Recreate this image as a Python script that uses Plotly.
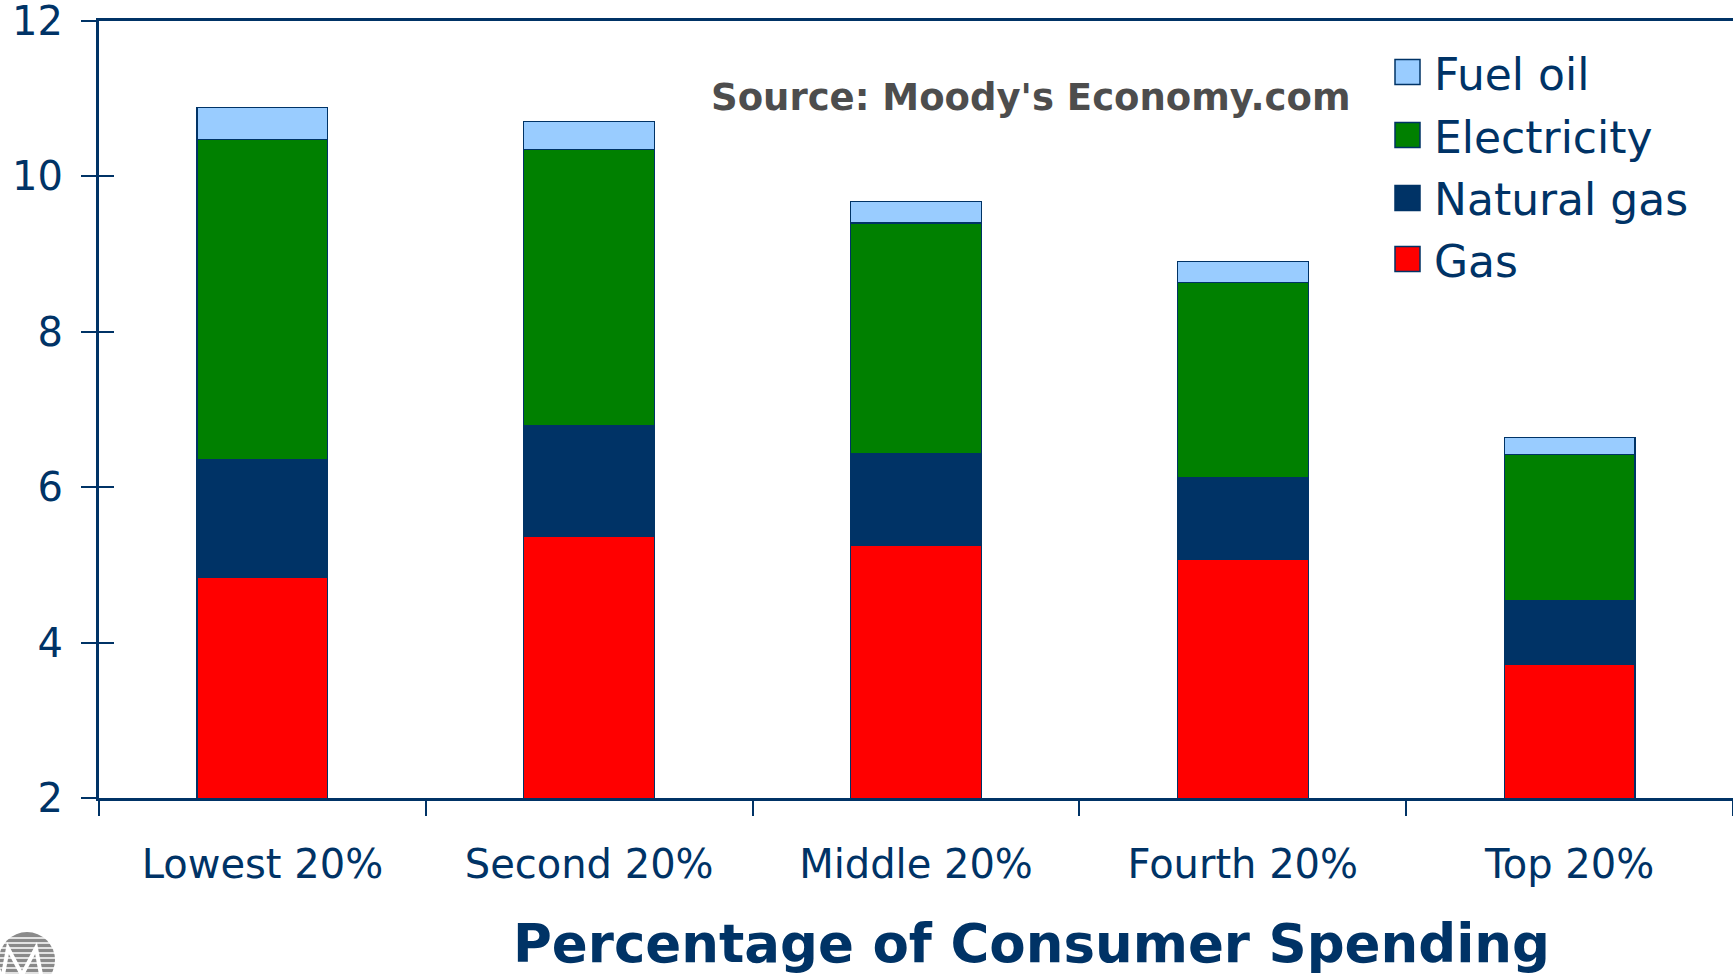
import plotly.graph_objects as go

categories = ["Lowest 20%", "Second 20%", "Middle 20%", "Fourth 20%", "Top 20%"]
gas = [4.84, 5.37, 5.25, 5.07, 3.72]
natural_gas = [1.52, 1.42, 1.18, 1.05, 0.82]
electricity = [4.11, 3.56, 2.97, 2.51, 1.88]
fuel_oil = [0.42, 0.36, 0.28, 0.27, 0.22]
series_names = ["Gas", "Natural gas", "Electricity", "Fuel oil"]
series_colors = ["#FF0000", "#003366", "#008000", "#99CCFF"]

NAVY = "#003366"
OFF = 0  # body margin removed via post_script
W, H = 1733, 974
ML, MR, MT, MB = 99, 0, 21, 176
PW = W - ML - MR
PH = H - MT - MB


def px_x(x):
    return (x - OFF - ML) / PW


def px_y(y):
    return (H - MB - (y - OFF)) / PH


fig = go.Figure()
for name, vals, col in zip(series_names, [gas, natural_gas, electricity, fuel_oil], series_colors):
    fig.add_trace(go.Bar(
        x=categories, y=vals, name=name,
        marker=dict(color=col, line=dict(color=NAVY, width=1.2)),
        showlegend=False,
    ))

tickfont = dict(family="DejaVu Sans", size=40, color=NAVY)

fig.update_layout(
    width=W, height=H,
    margin=dict(l=ML, r=MR, t=MT, b=MB, autoexpand=False),
    paper_bgcolor="white", plot_bgcolor="white",
    barmode="stack", bargap=0.6,
    font=dict(family="DejaVu Sans", color=NAVY),
    xaxis=dict(
        type="category", tickson="boundaries", ticks="outside", ticklen=15,
        tickwidth=2, tickcolor=NAVY, showline=True, linecolor=NAVY, linewidth=3,
        mirror=True, showgrid=False, tickfont=tickfont, ticklabelstandoff=29,
        automargin=False,
    ),
    yaxis=dict(
        range=[2, 12], dtick=2, ticks="outside", ticklen=15, tickwidth=2,
        tickcolor=NAVY, showline=True, linecolor=NAVY, linewidth=3,
        showgrid=False, zeroline=False, tickfont=tickfont, ticklabelstandoff=10,
        ticklabeloverflow="allow", automargin=False,
    ),
    yaxis2=dict(
        range=[2, 12], dtick=2, ticks="inside", ticklen=15, tickwidth=2,
        tickcolor=NAVY, overlaying="y", side="left", showticklabels=False,
        showgrid=False, zeroline=False, showline=False, automargin=False,
    ),
)
# invisible trace to activate yaxis2
fig.add_trace(go.Scatter(x=[categories[0]], y=[None], yaxis="y2", showlegend=False, hoverinfo="skip"))

# Manual legend (top to bottom: Fuel oil, Electricity, Natural gas, Gas)
legend_rows = [72, 135, 198, 259]
for name, col, yc in zip(series_names[::-1], series_colors[::-1], legend_rows):
    fig.add_shape(type="rect", xref="paper", yref="paper",
                  x0=px_x(1395), x1=px_x(1420), y0=px_y(yc + 12.5), y1=px_y(yc - 12.5),
                  fillcolor=col, line=dict(color=NAVY, width=1.5))
    fig.add_annotation(xref="paper", yref="paper", x=px_x(1432), y=px_y(yc + 2),
                       text=name, showarrow=False, xanchor="left", yanchor="middle",
                       font=dict(family="DejaVu Sans", size=44, color=NAVY))

fig.add_annotation(xref="paper", yref="paper", x=px_x(1030), y=px_y(98),
                   text="<b>Source: Moody's Economy.com</b>", showarrow=False,
                   xanchor="center", yanchor="middle",
                   font=dict(family="DejaVu Sans", size=37, color="#4D4D4D"))

fig.add_annotation(xref="paper", yref="paper", x=px_x(1031), y=px_y(944),
                   text="<b>Percentage of Consumer Spending</b>", showarrow=False,
                   xanchor="center", yanchor="middle",
                   font=dict(family="DejaVu Sans", size=53, color=NAVY))

# logo fragment bottom-left (decorative)
fig.add_shape(type="circle", xref="paper", yref="paper",
              x0=px_x(-1), x1=px_x(55), y0=px_y(988), y1=px_y(932),
              fillcolor="#8A8A8A", line=dict(width=0), layer="above")
for yy in range(938, 975, 5):
    fig.add_shape(type="line", xref="paper", yref="paper",
                  x0=px_x(-2), x1=px_x(57), y0=px_y(yy), y1=px_y(yy),
                  line=dict(color="white", width=1.5), layer="above")
m_pts = [(2, 980), (8, 948), (22, 975), (36, 948), (42, 980)]
m_path = "M " + " L ".join(f"{px_x(x)},{px_y(y)}" for x, y in m_pts)
fig.add_shape(type="path", xref="paper", yref="paper", path=m_path,
              line=dict(color="white", width=4), layer="above")

fig.write_html("out.html", config={"displayModeBar": False},
               post_script="document.body.style.margin='0';document.body.style.overflow='hidden';")
